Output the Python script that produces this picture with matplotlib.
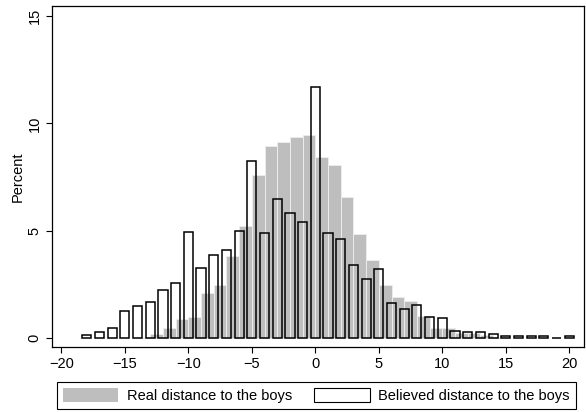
import matplotlib
matplotlib.use('Agg')
import matplotlib.pyplot as plt
from matplotlib.patches import Patch
import numpy as np

plt.rcParams['font.family'] = ['Liberation Sans', 'DejaVu Sans']
plt.rcParams['font.size'] = 10.5

# real distance: histogram bins of width 1, left edges
real_left = np.arange(-14, 15)
real_pct = [0.05, 0.19, 0.44, 0.86, 0.97, 2.08, 2.46, 3.81, 5.21, 7.59,
            8.96, 9.13, 9.38, 9.45, 8.43, 8.06, 6.58, 4.84, 3.61, 2.46,
            1.88, 1.71, 1.00, 0.45, 0.45, 0.22, 0.20, 0.12, 0.05]

# believed distance: one bar per integer value
believed_x = np.arange(-18, 21)
believed_pct = [0.15, 0.28, 0.45, 1.23, 1.49, 1.68, 2.22, 2.57, 4.91, 3.27,
                3.84, 4.09, 4.99, 8.26, 4.90, 6.47, 5.80, 5.38, 11.71, 4.90,
                4.59, 3.39, 2.72, 3.22, 1.60, 1.32, 1.54, 0.98, 0.93, 0.31,
                0.27, 0.27, 0.17, 0.06, 0.06, 0.06, 0.06, 0.0, 0.06]

gray = '#bebebe'

fig = plt.figure(figsize=(5.86, 4.12), dpi=100)
ax = fig.add_axes([52 / 586, 1 - 347 / 412, 532 / 586, 341 / 412])

ax.bar(real_left, real_pct, width=1.0, align='edge', color=gray,
       edgecolor='#ececec', linewidth=0.7, zorder=1)
ax.bar(believed_x, believed_pct, width=0.72, align='center', facecolor='none',
       edgecolor='black', linewidth=1.1, zorder=2)

ax.set_xlim(-20.74, 21.16)
ax.set_ylim(-0.43, 15.47)
ax.set_xticks(np.arange(-20, 21, 5))
ax.set_yticks([0, 5, 10, 15])
ax.set_yticklabels(['0', '5', '10', '15'], rotation=90, va='center')
ax.tick_params(direction='out', length=4.5, width=0.8, color='black', pad=3)
ax.set_ylabel('Percent', labelpad=2)
for s in ax.spines.values():
    s.set_linewidth(0.9)

handles = [Patch(facecolor=gray, edgecolor='none'),
           Patch(facecolor='white', edgecolor='black', linewidth=0.8)]
labels = ['Real distance to the boys', 'Believed distance to the boys']
leg = fig.legend(handles, labels, loc='upper left', ncol=2,
                 bbox_to_anchor=(57 / 586, 1 - 382 / 412),
                 handlelength=3.8, handleheight=1.1, handletextpad=0.6,
                 columnspacing=1.5, borderpad=0.4, borderaxespad=0,
                 fancybox=False, framealpha=1, edgecolor='black')
leg.get_frame().set_linewidth(0.8)

fig.savefig('out.png', dpi=100)
plt.close('all')
